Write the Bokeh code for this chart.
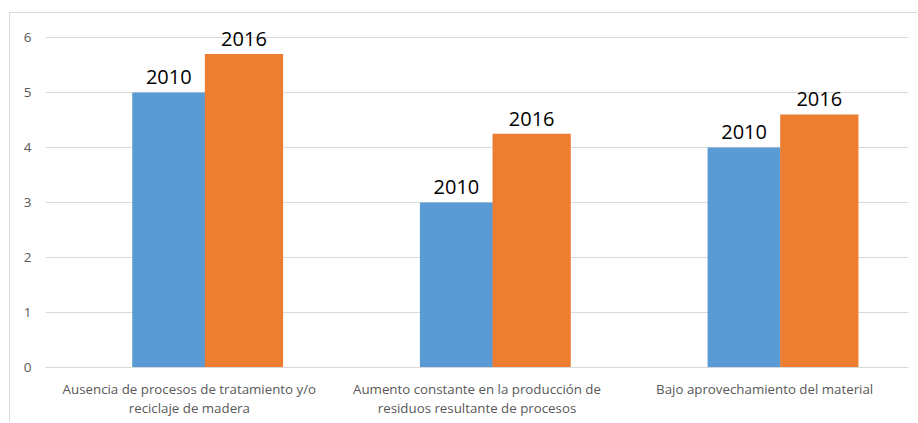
from bokeh.plotting import figure
from bokeh.models import ColumnDataSource, Range1d, FixedTicker, LabelSet
from bokeh.transform import dodge
from bokeh.core.properties import value
from bokeh.embed import file_html
from bokeh.resources import INLINE

categories = [
    "Ausencia de procesos de tratamiento y/o\nreciclaje de madera",
    "Aumento constante en la producción de\nresiduos resultante de procesos",
    "Bajo aprovechamiento del material",
]
series_names = ["2010", "2016"]
values_2010 = [5, 3, 4]
values_2016 = [5.7, 4.25, 4.6]
y_ticks = [0, 1, 2, 3, 4, 5, 6]

xs = list(range(len(categories)))
src = ColumnDataSource(dict(
    x=xs,
    v2010=values_2010,
    v2016=values_2016,
    l2010=[series_names[0]] * len(xs),
    l2016=[series_names[1]] * len(xs),
))

BLUE = "#5B9BD5"
ORANGE = "#ED7D31"
GRID = "#d9d9d9"
FONT = "Open Sans"

p = figure(width=908, height=410, output_backend="svg", toolbar_location=None,
           x_range=Range1d(-0.5, len(categories) - 0.5), y_range=Range1d(0, 6.345),
           min_border_left=35, min_border_right=10, min_border_top=5, min_border_bottom=56)
p.margin = (12, 0, 0, 9)
p.styles = {"border-top": "1px solid #d9d9d9", "border-left": "1px solid #d9d9d9"}
p.outline_line_color = None
p.background_fill_color = "white"
p.border_fill_color = "white"

off_a, w_a = -0.0715, 0.254
off_b, w_b = 0.19, 0.272

p.vbar(x=dodge("x", off_a), top="v2010", width=w_a, source=src,
       fill_color=BLUE, line_color=None)
p.vbar(x=dodge("x", off_b), top="v2016", width=w_b, source=src,
       fill_color=ORANGE, line_color=None)

for col, lab, off in (("v2010", "l2010", off_a), ("v2016", "l2016", off_b)):
    ls = LabelSet(x=dodge("x", off), y=col, text=lab, source=src,
                  text_align="center", text_baseline="alphabetic", y_offset=8,
                  text_font=value(FONT), text_font_size=value("20px"),
                  text_color="#000000")
    p.add_layout(ls)

# axes
p.xaxis.ticker = FixedTicker(ticks=xs)
p.xaxis.major_label_overrides = {i: c for i, c in enumerate(categories)}
p.xaxis.major_label_text_font = FONT
p.xaxis.major_label_text_font_size = "13.3px"
p.xaxis.major_label_text_color = "#595959"
p.xaxis.major_label_text_line_height = 1.1
p.xaxis.major_label_standoff = 12
p.xaxis.major_tick_out = 0
p.xaxis.major_tick_in = 0
p.xaxis.major_tick_line_color = None
p.xaxis.minor_tick_line_color = None
p.xaxis.axis_line_color = GRID

p.yaxis.ticker = FixedTicker(ticks=y_ticks)
p.yaxis.major_label_text_font = FONT
p.yaxis.major_label_text_font_size = "13.5px"
p.yaxis.major_label_text_color = "#595959"
p.yaxis.major_label_standoff = 14
p.yaxis.major_tick_out = 0
p.yaxis.major_tick_in = 0
p.yaxis.major_tick_line_color = None
p.yaxis.minor_tick_line_color = None
p.yaxis.axis_line_color = None

p.xgrid.grid_line_color = None
p.ygrid.grid_line_color = GRID
p.ygrid.grid_line_width = 1

open("out.html", "w").write(file_html(p, INLINE))
